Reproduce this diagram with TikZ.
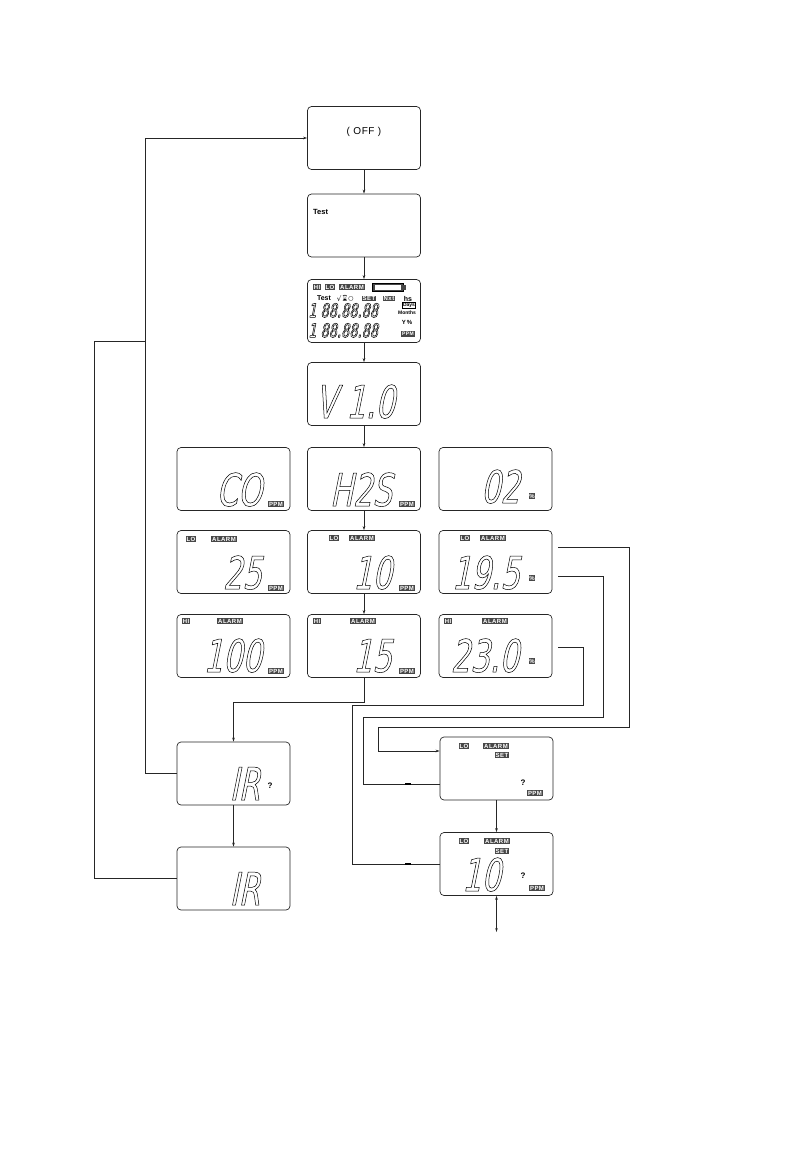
\documentclass[tikz,border=0pt]{standalone}
\usepackage{fontspec}
\setmainfont{Liberation Sans}
\newfontfamily\seg[FakeSlant=0.2,FakeStretch=0.68]{DejaVu Sans}
\newfontfamily\bdg[LetterSpace=8]{Liberation Sans}
\newfontfamily\djv{DejaVu Sans}
\newfontfamily\emo{Noto Emoji}
\usetikzlibrary{arrows.meta,decorations.markings}
\newcommand\hol[1]{\special{pdf:code q 1 Tr 0.5 w}#1\special{pdf:code Q}}
\begin{document}
\begin{tikzpicture}[x=1pt,y=-1pt,
  lcd/.style={draw=black!85, line width=0.7pt, rounded corners=4pt, minimum width=113pt, minimum height=63pt, inner sep=0pt},
  conn/.style={draw=black!85, line width=0.6pt},
  arr/.style={conn, -{Stealth[length=4pt,width=2.6pt]}},
  dig/.style={inner sep=0pt, font=\seg\fontsize{45}{45}\selectfont},
  sdig/.style={inner sep=0pt, font=\seg\fontsize{19}{20}\selectfont},
  bd/.style={fill=black!72, text=white, inner sep=0.8pt, font=\bdg\bfseries\fontsize{6}{6}\selectfont},
  lbl/.style={inner sep=0pt, font=\fontsize{7}{7}\selectfont},
  midmark/.style={postaction={decorate}, decoration={markings, mark=at position -32pt with {\fill (-3pt,-1pt) rectangle (3pt,1pt);}}}
]
\useasboundingbox (0,0) rectangle (792,1152);

% ---------- boxes ----------
\node[lcd] (off)  at (364,138) {};
\node[lcd] (test) at (364,225.5) {};
\node[lcd] (disp) at (364,311) {};
\node[lcd] (ver)  at (364,394) {};
\node[lcd] (co)   at (233.5,479) {};
\node[lcd] (h2s)  at (364,479) {};
\node[lcd] (o2)   at (495.5,479) {};
\node[lcd] (c25)  at (233.5,562) {};
\node[lcd] (ten)  at (364,562) {};
\node[lcd] (o19)  at (495.5,562) {};
\node[lcd] (c100) at (233.5,646) {};
\node[lcd] (fif)  at (364,646) {};
\node[lcd] (o23)  at (495.5,646) {};
\node[lcd] (irq)  at (233.5,773.5) {};
\node[lcd] (ir)   at (233.5,878.5) {};
\node[lcd] (loa)  at (496.5,768.5) {};
\node[lcd] (lob)  at (496.5,864) {};

% ---------- texts ----------
\node[font=\fontsize{10}{10}\selectfont\addfontfeature{LetterSpace=6}] (offt) at (364,132) {( OFF )};
\node[lbl, font=\bfseries\fontsize{7.5}{7.5}\selectfont, anchor=west] (testt) at (313,212) {Test};

% full display
\node[bd] (dhi) at (317,287) {HI};
\node[bd] (dlo) at (330,287) {LO};
\node[bd] (dal) at (352,287) {ALARM};
\draw[fill=black!72] (372,283.5) rectangle (403,291);
\draw[fill=white, draw=white] (375,285.5) rectangle (400,289);
\fill[black!72] (403,285) rectangle (406,289.5);
\node[lbl, font=\bfseries\fontsize{7}{7}\selectfont] (dtest) at (324,298.5) {Test};
\node[lbl, font=\djv\fontsize{7}{7}\selectfont] (dchk) at (339,298.5) {√};
\node[lbl, font=\emo\fontsize{6}{6}\selectfont] (dhour) at (345,298.5) {⌛};
\node[lbl, font=\djv\fontsize{6}{6}\selectfont] (dcirc) at (351,298.5) {○};
\node[bd] (dset) at (369,298.5) {SET};
\node[bd] (dnxt) at (389,298.5) {Nxt};
\node[lbl, font=\bfseries\fontsize{7}{7}\selectfont] (dhs) at (408,298.5) {hs};
\node[sdig, anchor=north west, align=left] (drows) at (308,303) {\hol{1 88.88.88}\\\hol{1 88.88.88}};
\node[lbl, draw, font=\bfseries\fontsize{5}{5}\selectfont, inner sep=0.6pt] (ddays) at (409,305.5) {Days};
\node[lbl, font=\bfseries\fontsize{5}{5}\selectfont] (dmon) at (407,313) {Months};
\node[lbl, font=\bfseries\fontsize{6}{6}\selectfont] (dyp) at (407,322) {Y\,\%};
\node[bd, font=\bdg\bfseries\fontsize{5}{5}\selectfont] (dppm) at (408,334) {PPM};

% version
\node[dig, anchor=base east] (vt) at (395,418) {\hol{V 1.0}};
% row 1
\node[dig, anchor=base east] (cot) at (262,506) {\hol{CO}};
\node[bd] (cop) at (276,504) {PPM};
\node[dig, anchor=base east] (h2st) at (392,506) {\hol{H2S}};
\node[bd] (h2sp) at (407,504) {PPM};
\node[dig, anchor=base east] (o2t) at (520,503) {\hol{02}};
\node[bd] (o2p) at (532,496) {\%};
% row 2
\node[bd] (c25lo) at (191,539) {LO};
\node[bd] (c25al) at (224,539) {ALARM};
\node[dig, anchor=base east] (c25t) at (262,589) {\hol{25}};
\node[bd] (c25p) at (276,588) {PPM};
\node[bd] (tenlo) at (334,538) {LO};
\node[bd] (tenal) at (362,538) {ALARM};
\node[dig, anchor=base east] (tent) at (392,589) {\hol{10}};
\node[bd] (tenp) at (407,588) {PPM};
\node[bd] (o19lo) at (465,538) {LO};
\node[bd] (o19al) at (493,538) {ALARM};
\node[dig, anchor=base east] (o19t) at (520,589) {\hol{19.5}};
\node[bd] (o19p) at (532,578) {\%};
% row 3
\node[bd] (c100hi) at (186,621) {HI};
\node[bd] (c100al) at (230,621) {ALARM};
\node[dig, anchor=base east] (c100t) at (262,672) {\hol{100}};
\node[bd] (c100p) at (276,671) {PPM};
\node[bd] (fifhi) at (317,621) {HI};
\node[bd] (fifal) at (363,621) {ALARM};
\node[dig, anchor=base east] (fift) at (392,672) {\hol{15}};
\node[bd] (fifp) at (407,671) {PPM};
\node[bd] (o23hi) at (448,621) {HI};
\node[bd] (o23al) at (495,621) {ALARM};
\node[dig, anchor=base east] (o23t) at (519,672) {\hol{23.0}};
\node[bd] (o23p) at (532,661) {\%};
% IR
\node[dig, anchor=base east] (irqt) at (260,800) {\hol{IR}};
\node[lbl, font=\bfseries\fontsize{8}{8}\selectfont] (irqq) at (270,786) {?};
\node[dig, anchor=base east] (irt) at (260,905) {\hol{IR}};
% set boxes
\node[bd] (loalo) at (464,746) {LO};
\node[bd] (loaal) at (496,746) {ALARM};
\node[bd] (loaset) at (502,755) {SET};
\node[lbl, font=\bfseries\fontsize{8}{8}\selectfont] (loaq) at (523,783) {?};
\node[bd] (loap) at (535,793) {PPM};
\node[bd] (loblo) at (464,841) {LO};
\node[bd] (lobal) at (497,841) {ALARM};
\node[bd] (lobset) at (502,851) {SET};
\node[dig, anchor=base east] (lobt) at (501,891) {\hol{10}};
\node[lbl, font=\bfseries\fontsize{8}{8}\selectfont] (lobq) at (523,876) {?};
\node[bd] (lobp) at (537,888) {PPM};

% ---------- connectors ----------
\draw[arr] (off.south) -- (test.north);
\draw[arr] (test.south) -- (disp.north);
\draw[arr] (disp.south) -- (ver.north);
\draw[arr] (ver.south) -- (h2s.north);
\draw[arr] (h2s.south) -- (ten.north);
\draw[arr] (ten.south) -- (fif.north);
\coordinate (j1) at (364,702);
\draw[arr] (fif.south) -- (j1) -| (irq.north);
\draw[arr] (irq.south) -- (ir.north);
\draw[arr] (irq.west) -- ++(-31,0) |- (off.west);
\coordinate (jk) at (94,341);
\coordinate (jl) at (146,341);
\draw[conn] (ir.west) -| (jk) -- (jl);

\draw[arr] ([xshift=6pt,yshift=15pt]o19.east) -- (629,547) -- (629,727) -- (378,727) |- ([yshift=17.5pt]loa.west);
\draw[conn, midmark] ([xshift=6pt,yshift=-14pt]o19.east) -- (603,576) -- (603,717) -- (363,717) |- ([yshift=-15.5pt]loa.west);
\draw[conn, midmark] ([xshift=6pt,yshift=-1pt]o23.east) -- (583,647) -- (583,705) -- (352,705) |- (lob.west);
\draw[arr] (loa.south) -- (lob.north);
\coordinate (endb) at (496.5,932);
\draw[conn, {Stealth[length=4pt,width=2.6pt]}-{Stealth[length=4pt,width=2.6pt]}] (lob.south) -- (endb);
\end{tikzpicture}
\end{document}
